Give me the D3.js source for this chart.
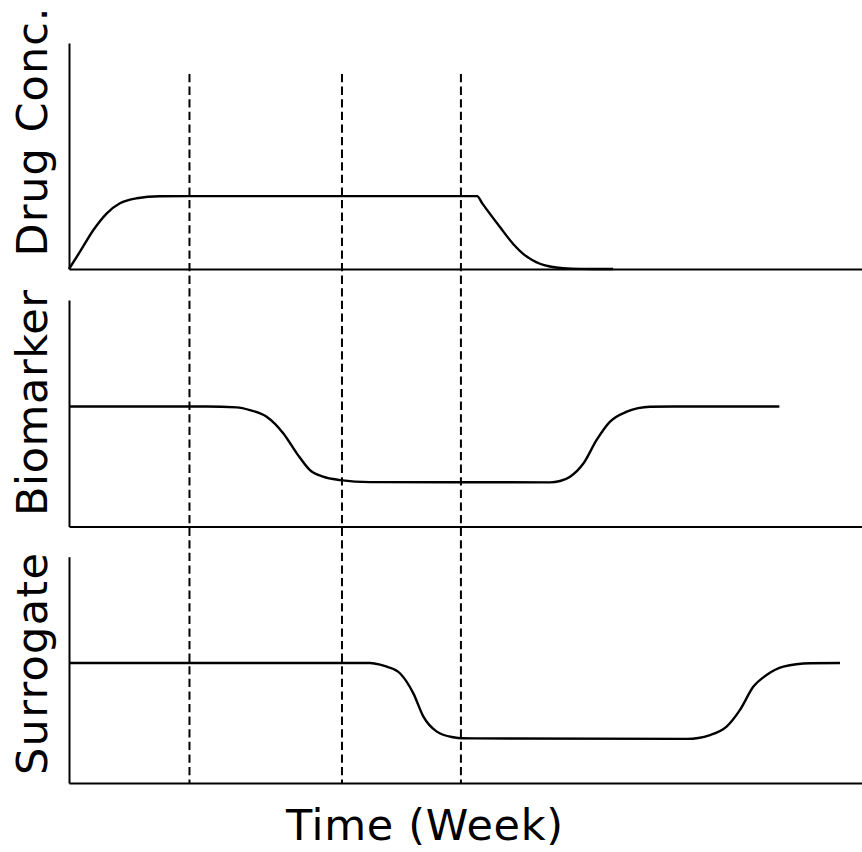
<!DOCTYPE html>
<html>
<head>
<meta charset="utf-8">
<script src="https://cdn.jsdelivr.net/npm/d3@7"></script>
<style>
  html, body { margin: 0; padding: 0; background: #fff; }
  svg { display: block; }
  text { font-family: "DejaVu Sans", sans-serif; fill: #000; }
</style>
</head>
<body>
<svg id="chart" width="862" height="852"></svg>
<script>
// ---- data (time in weeks) ----
const xDomain = [0, 26];
const dashWeeks = [3.95, 8.95, 12.85];

const drugT = [0, 0.36, 0.8, 1.24, 1.67, 2.22, 2.98, 3.97, 13.38, 13.55, 14.13, 14.57, 14.90, 15.2, 15.44, 15.77, 16.2, 16.8, 17.84];
const drugV = [0, 2.37, 5.35, 7.64, 9.01, 9.70, 9.98, 10, 10, 9.0, 5.75, 3.4, 2.05, 1.2, 0.72, 0.34, 0.1, 0.02, 0];

const bioT = [0, 4.51, 5.5, 5.93, 6.48, 7.03, 7.47, 7.90, 8.33, 8.89, 9.87, 15.77, 16.1, 16.43, 16.87, 17.30, 17.74, 18.29, 19.05, 19.81, 23.29];
const bioV = [53, 53, 52.6, 51.4, 48.5, 41.1, 32.3, 24.9, 22.0, 20.5, 19.6, 19.5, 20.1, 22.0, 27.9, 38.2, 46.3, 50.7, 52.9, 53, 53];

const surT = [0, 9.87, 10.2, 10.42, 10.85, 11.29, 11.62, 12.06, 12.60, 12.88, 20.25, 21.02, 21.56, 22.0, 22.44, 22.87, 23.42, 24.3, 25.28];
const surV = [53, 53, 52.3, 51.4, 48.5, 39.6, 29.3, 22.7, 20.2, 19.75, 19.5, 21.2, 24.9, 32.3, 42.6, 47.7, 51.4, 52.9, 53];

const panelLabels = ["Drug Conc.", "Biomarker", "Surrogate"];
const xLabel = "Time (Week)";

// ---- layout ----
const svg = d3.select("#chart");
const left = 69, right = 862;
const x = d3.scaleLinear().domain(xDomain).range([left, right]);

const panels = [
  { label: panelLabels[0], t: drugT, v: drugV, domain: [0, 31], top: 43, bottom: 269, labelY: 132, labelLen: 249 },
  { label: panelLabels[1], t: bioT, v: bioV, domain: [0, 100], top: 300, bottom: 526.5, labelY: 403, labelLen: 226 },
  { label: panelLabels[2], t: surT, v: surV, domain: [0, 100], top: 556.7, bottom: 783, labelY: 664, labelLen: 222 }
];

panels.forEach(p => {
  const y = d3.scaleLinear().domain(p.domain).range([p.bottom, p.top]);
  const ya = svg.append("g").attr("transform", `translate(${left},0)`)
    .call(d3.axisLeft(y).tickValues([]).tickSizeOuter(0));
  ya.select(".domain").attr("stroke", "#000").attr("stroke-width", 2);
  const xa = svg.append("g").attr("transform", `translate(0,${p.bottom})`)
    .call(d3.axisBottom(x).tickValues([]).tickSizeOuter(0));
  xa.select(".domain").attr("stroke", "#000").attr("stroke-width", 2);

  const pts = p.t.map((t, i) => [t, p.v[i]]);
  const line = d3.line().x(d => x(d[0])).y(d => y(d[1])).curve(d3.curveMonotoneX);
  svg.append("path").datum(pts)
    .attr("d", line)
    .attr("fill", "none")
    .attr("stroke", "#000")
    .attr("stroke-width", 2.4);

  svg.append("text")
    .attr("transform", `translate(47,${p.labelY}) rotate(-90)`)
    .attr("text-anchor", "middle")
    .attr("font-size", 43)
    .attr("textLength", p.labelLen)
    .attr("lengthAdjust", "spacing")
    .text(p.label);
});

svg.selectAll("line.ref").data(dashWeeks).enter().append("line")
  .attr("class", "ref")
  .attr("x1", d => x(d)).attr("x2", d => x(d))
  .attr("y1", 74).attr("y2", 783)
  .attr("stroke", "#000")
  .attr("stroke-width", 2)
  .attr("stroke-dasharray", "8.3,4.3");

svg.append("text")
  .attr("x", 424.5).attr("y", 840)
  .attr("text-anchor", "middle")
  .attr("font-size", 43)
  .attr("textLength", 277)
  .attr("lengthAdjust", "spacing")
  .text(xLabel);
</script>
</body>
</html>
